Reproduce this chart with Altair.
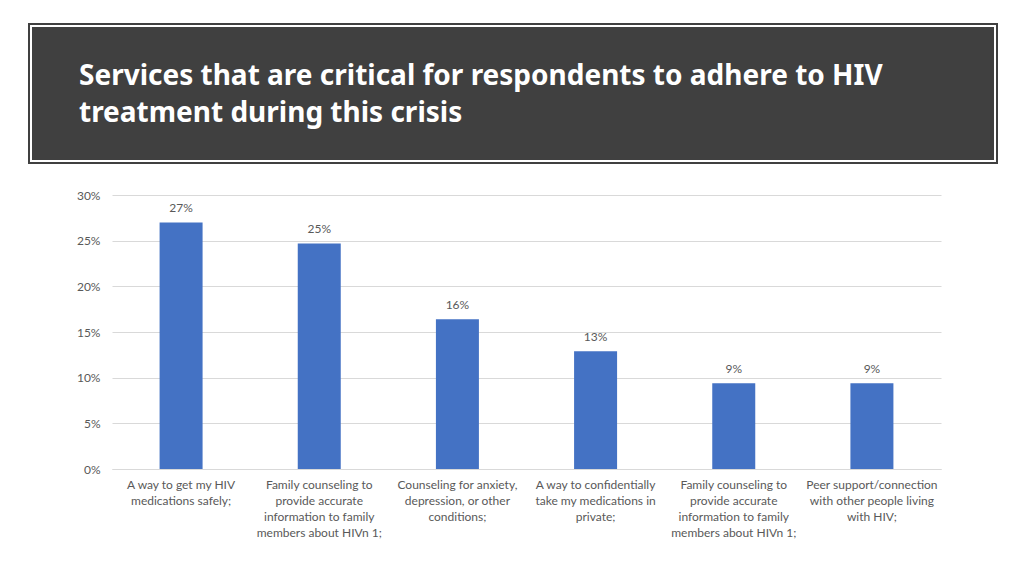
import altair as alt
import pandas as pd

title_lines = [
    "Services that are critical for respondents to adhere to HIV",
    "treatment during this crisis",
]

categories = [
    ["A way to get my HIV", "medications safely;"],
    ["Family counseling to", "provide accurate", "information to family", "members about HIVn 1;"],
    ["Counseling for anxiety,", "depression, or other", "conditions;"],
    ["A way to confidentially", "take my medications in", "private;"],
    ["Family counseling to", "provide accurate", "information to family", "members about HIVn 1;"],
    ["Peer support/connection", "with other people living", "with HIV;"],
]
values = [0.270, 0.247, 0.164, 0.129, 0.094, 0.094]
y_ticks = [0, 0.05, 0.10, 0.15, 0.20, 0.25, 0.30]

keys = [f"{i}|" + "|".join(c) for i, c in enumerate(categories)]
df = pd.DataFrame({"key": keys, "value": values})

FONT = "Lato"
GRAY = "#595959"

x_enc = alt.X(
    "key:N",
    sort=keys,
    axis=alt.Axis(
        title=None,
        labelAngle=0,
        labelExpr="slice(split(datum.label, '|'), 1)",
        labelLimit=0,
        labelPadding=10,
        labelLineHeight=16,
        labelFont=FONT,
        labelFontSize=12,
        labelColor=GRAY,
        ticks=False,
        domainColor="#d9d9d9",
        domainWidth=1,
    ),
)
y_enc = alt.Y(
    "value:Q",
    scale=alt.Scale(domain=[0, 0.30], nice=False),
    axis=alt.Axis(
        title=None,
        values=y_ticks,
        format=".0%",
        domain=False,
        ticks=False,
        gridColor="#d9d9d9",
        gridWidth=1,
        labelFont=FONT,
        labelFontSize=12,
        labelColor=GRAY,
        labelPadding=12,
    ),
)

base = alt.Chart(df)
bars = base.mark_bar(color="#4472C4", size=43).encode(x=x_enc, y=y_enc)
labels = base.mark_text(
    dy=-7, baseline="bottom", font=FONT, fontSize=12, color=GRAY
).encode(x=alt.X("key:N", sort=keys), y="value:Q", text=alt.Text("value:Q", format=".0%"))

hdr = alt.Data(values=[{"h": 1}])
box = alt.Chart(hdr).mark_rect(color="#404040").encode(
    x=alt.value(-84), x2=alt.value(886), y=alt.value(-172), y2=alt.value(-31)
)
inner = alt.Chart(hdr).mark_rect(fillOpacity=0, stroke="white", strokeWidth=2).encode(
    x=alt.value(-81), x2=alt.value(883), y=alt.value(-169), y2=alt.value(-34)
)
title = alt.Chart(hdr).mark_text(
    text=title_lines,
    align="left",
    baseline="alphabetic",
    font="Noto Sans",
    fontSize=28,
    fontWeight="bold",
    color="white",
    lineHeight=37,
).encode(x=alt.value(-33), y=alt.value(-110))

chart = (
    alt.layer(box, inner, title, bars, labels)
    .properties(
        width=829,
        height=274,
        padding={"left": 104, "top": 187, "right": 70, "bottom": 90},
        autosize=alt.AutoSizeParams(type="none"),
        background="white",
    )
    .configure_view(stroke=None)
)

chart.save("out.html", embed_options={"renderer": "svg", "actions": False})
